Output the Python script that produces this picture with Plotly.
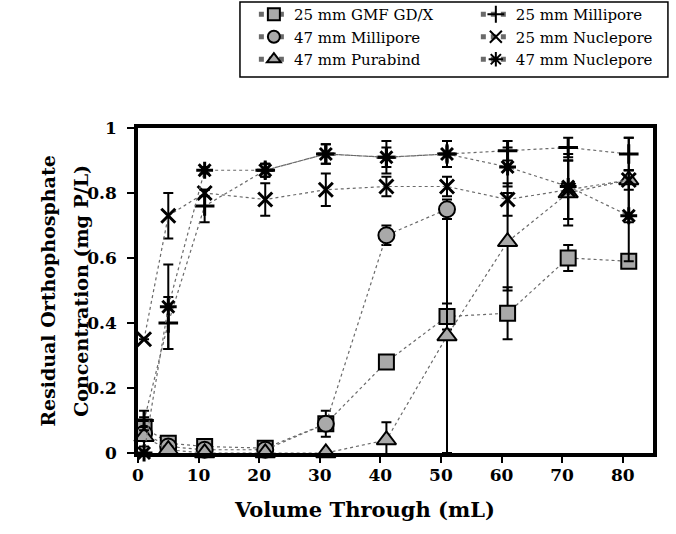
import plotly.graph_objects as go

# Volume passed through each filter (mL)
volume = [1, 5, 11, 21, 31, 41, 51, 61, 71, 81]
volume_47mill = [1, 5, 11, 21, 31, 41, 51]

# Residual orthophosphate concentration (mg P/L) and error estimates
gmf_25 = [0.08, 0.03, 0.02, 0.015, 0.09, 0.28, 0.42, 0.43, 0.60, 0.59]
gmf_25_err = [0.03, 0.01, 0.01, 0.01, 0.01, 0.01, 0.04, 0.08, 0.04, 0.01]

mill_25 = [0.10, 0.40, 0.76, 0.87, 0.92, 0.91, 0.92, 0.93, 0.94, 0.92]
mill_25_err = [0.03, 0.08, 0.05, 0.02, 0.03, 0.05, 0.04, 0.03, 0.03, 0.05]

mill_47 = [0.06, 0.02, 0.01, 0.01, 0.09, 0.67, 0.75]
mill_47_err = [0.02, 0.01, 0.01, 0.01, 0.04, 0.03, 0.03]

nucl_25 = [0.35, 0.73, 0.80, 0.78, 0.81, 0.82, 0.82, 0.78, 0.81, 0.84]
nucl_25_err = [0.0, 0.07, 0.01, 0.05, 0.05, 0.03, 0.03, 0.05, 0.09, 0.03]

pura_47 = [0.05, 0.01, 0.0, 0.0, 0.0, 0.04, 0.36, 0.65, 0.80, 0.84]
pura_47_err = [0.03, 0.01, 0.0, 0.0, 0.0, 0.055, 0.36, 0.15, 0.10, 0.13]

nucl_47 = [0.0, 0.45, 0.87, 0.87, 0.92, 0.91, 0.92, 0.88, 0.82, 0.73]
nucl_47_err = [0.0, 0.13, 0.01, 0.02, 0.03, 0.03, 0.04, 0.06, 0.10, 0.14]

x_ticks = [0, 10, 20, 30, 40, 50, 60, 70, 80]
y_ticks = [0, 0.2, 0.4, 0.6, 0.8, 1]
y_tick_text = ["0", "0.2", "0.4", "0.6", "0.8", "1"]

LEGEND_FONT = "DejaVu Serif"
AXIS_FONT = "DejaVu Serif"
FILL = "#a9a9a9"
LINE = dict(color="#6a6a6a", width=1.2, dash="dot")

# name, x, y, error, symbol, size, filled, legend column
series = [
    ("25 mm GMF GD/X", volume, gmf_25, gmf_25_err, "square", 15, True, "legend"),
    ("47 mm Millipore", volume_47mill, mill_47, mill_47_err, "circle", 16, True, "legend"),
    ("47 mm Purabind", volume, pura_47, pura_47_err, "triangle-up", 17, True, "legend"),
    ("25 mm Millipore", volume, mill_25, mill_25_err, "cross-thin", 14, False, "legend2"),
    ("25 mm Nuclepore", volume, nucl_25, nucl_25_err, "x-thin", 14, False, "legend2"),
    ("47 mm Nuclepore", volume, nucl_47, nucl_47_err, "asterisk", 14, False, "legend2"),
]

fig = go.Figure()
for name, xs, ys, errs, sym, size, filled, leg in series:
    if filled:
        marker = dict(symbol=sym, size=size, color=FILL,
                      line=dict(color="black", width=2))
    else:
        marker = dict(symbol=sym, size=size, color="black",
                      line=dict(color="black", width=3))
    fig.add_trace(go.Scatter(
        x=xs, y=ys, name=name, mode="lines+markers", legend=leg,
        line=LINE, marker=marker, cliponaxis=False,
        error_y=dict(type="data", array=errs, visible=True,
                     color="black", thickness=2, width=5),
    ))

legend_common = dict(
    orientation="v", yanchor="top", xanchor="left", y=1.4,
    bgcolor="rgba(0,0,0,0)", borderwidth=0,
    font=dict(family=LEGEND_FONT, size=15, color="black"),
    tracegroupgap=0, itemsizing="constant",
)

title_font = dict(family=AXIS_FONT, size=19, color="black")

fig.update_layout(
    width=676, height=534,
    margin=dict(l=138, r=23, t=128, b=81, autoexpand=False),
    paper_bgcolor="white", plot_bgcolor="white",
    font=dict(family=AXIS_FONT, color="black", size=17),
    showlegend=True,
    legend=dict(x=0.225, **legend_common),
    legend2=dict(x=0.656, **legend_common),
    shapes=[dict(type="rect", xref="paper", yref="paper",
                 x0=0.198, x1=1.029, y0=1.157, y1=1.388,
                 line=dict(color="black", width=1.5), fillcolor="rgba(0,0,0,0)",
                 layer="below")],
    annotations=[
        dict(text="<b>Volume Through (mL)</b>", xref="paper", yref="paper",
             x=0.44, y=-0.175, xanchor="center", yanchor="middle",
             showarrow=False, font=dict(family=AXIS_FONT, size=21, color="black")),
        dict(text="<b>Residual Orthophosphate</b>", xref="paper", yref="paper",
             x=-0.176, y=0.5, xanchor="center", yanchor="middle", textangle=-90,
             showarrow=False, font=title_font),
        dict(text="<b>Concentration (mg P/L)</b>", xref="paper", yref="paper",
             x=-0.112, y=0.5, xanchor="center", yanchor="middle", textangle=-90,
             showarrow=False, font=title_font),
    ],
    xaxis=dict(
        range=[0, 85], tickmode="array", tickvals=x_ticks,
        ticks="outside", ticklen=6, tickwidth=1.5, tickcolor="black",
        ticklabelstandoff=-2,
        showline=True, linecolor="black", linewidth=3.5, mirror=True,
        showgrid=False, zeroline=False,
        tickfont=dict(family=AXIS_FONT, size=17, weight="bold"),
    ),
    yaxis=dict(
        range=[0, 1], tickmode="array", tickvals=y_ticks, ticktext=y_tick_text,
        ticks="outside", ticklen=7, tickwidth=1.5, tickcolor="black",
        ticklabelstandoff=7,
        showline=True, linecolor="black", linewidth=3.5, mirror=True,
        showgrid=False, zeroline=False,
        tickfont=dict(family=AXIS_FONT, size=17, weight="bold"),
    ),
)

fig.write_html("out.html")
